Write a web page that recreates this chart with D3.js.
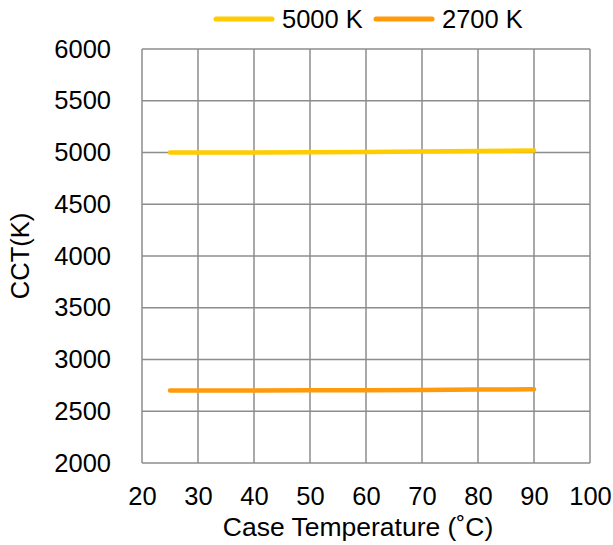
<!DOCTYPE html>
<html>
<head>
<meta charset="utf-8">
<script src="https://cdn.jsdelivr.net/npm/d3@7"></script>
<style>
  body { margin: 0; background: #fff; }
  text { font-family: "Liberation Sans", Arial, sans-serif; fill: #000; }
</style>
</head>
<body>
<div id="chart"></div>
<script>
// data
var temps = [25, 30, 40, 50, 60, 70, 80, 90];
var cct5000 = [5000, 5000, 5001, 5003, 5006, 5010, 5015, 5020];
var cct2700 = [2700, 2700, 2701, 2702, 2704, 2706, 2709, 2712];
var seriesNames = ["5000 K", "2700 K"];
var seriesColors = ["#ffcc00", "#ff9a0a"];
var xTicks = [20, 30, 40, 50, 60, 70, 80, 90, 100];
var yTicks = [2000, 2500, 3000, 3500, 4000, 4500, 5000, 5500, 6000];

var fontSize = "25.5px";
var svgWidth = 613, svgHeight = 545;
var margin = { top: 49, right: 23, bottom: 82, left: 142 };
var width = svgWidth - margin.left - margin.right;
var height = svgHeight - margin.top - margin.bottom;

var svg = d3.select("#chart").append("svg")
    .attr("width", svgWidth)
    .attr("height", svgHeight);

var chartGroup = svg.append("g")
    .attr("transform", `translate(${margin.left}, ${margin.top})`);

var x = d3.scaleLinear().domain([20, 100]).range([0, width]);
var y = d3.scaleLinear().domain([2000, 6000]).range([height, 0]);

// grid lines
chartGroup.selectAll(".vgrid").data(xTicks).enter().append("line")
    .attr("x1", d => x(d)).attr("x2", d => x(d))
    .attr("y1", 0).attr("y2", height)
    .attr("stroke", "#8c8c8c").attr("stroke-width", 1.5);

chartGroup.selectAll(".hgrid").data(yTicks).enter().append("line")
    .attr("x1", 0).attr("x2", width)
    .attr("y1", d => y(d)).attr("y2", d => y(d))
    .attr("stroke", "#8c8c8c").attr("stroke-width", 1.5);

// axes (labels only)
var bottomAxis = d3.axisBottom(x).tickValues(xTicks).tickFormat(d3.format("d")).tickSize(0).tickPadding(24);
var leftAxis = d3.axisLeft(y).tickValues(yTicks).tickFormat(d3.format("d")).tickSize(0).tickPadding(31);

var xAxis = chartGroup.append("g")
    .attr("transform", `translate(0, ${height})`)
    .call(bottomAxis);
var yAxis = chartGroup.append("g").call(leftAxis);

[xAxis, yAxis].forEach(function(a) {
    a.select(".domain").remove();
    a.attr("font-size", null).attr("font-family", null);
    a.selectAll("text").style("font-size", fontSize).attr("fill", "#000");
});

// lines
var line = d3.line()
    .x((d, i) => x(temps[i]))
    .y(d => y(d));

[cct5000, cct2700].forEach(function(vals, i) {
    chartGroup.append("path")
        .datum(vals)
        .attr("d", line)
        .attr("fill", "none")
        .attr("stroke", seriesColors[i])
        .attr("stroke-width", 4.5)
        .attr("stroke-linecap", "round");
});

// axis titles
svg.append("text")
    .attr("x", 358)
    .attr("y", 536)
    .attr("text-anchor", "middle")
    .style("font-size", "26.5px")
    .text("Case Temperature (˚C)");

svg.append("text")
    .attr("transform", "rotate(-90)")
    .attr("x", -(margin.top + height / 2))
    .attr("y", 29)
    .attr("text-anchor", "middle")
    .style("font-size", fontSize)
    .text("CCT(K)");

// legend
var legendX = [216, 376];
seriesNames.forEach(function(name, i) {
    var g = svg.append("g").attr("transform", `translate(${legendX[i]}, 19)`);
    g.append("line")
        .attr("x1", 0).attr("x2", 56)
        .attr("y1", 0).attr("y2", 0)
        .attr("stroke", seriesColors[i])
        .attr("stroke-width", 5)
        .attr("stroke-linecap", "round");
    g.append("text")
        .attr("x", 66).attr("y", 8.5)
        .style("font-size", fontSize)
        .text(name);
});
</script>
</body>
</html>
